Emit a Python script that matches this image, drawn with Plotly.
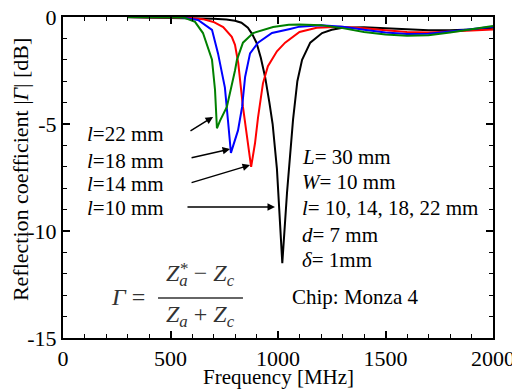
import plotly.graph_objects as go

# ---- data ----
freq_l10 = [300, 400, 500, 600, 700, 760, 800, 830, 860, 880, 900, 920, 940, 960, 975, 995, 1020,
            1042, 1070, 1090, 1112, 1150, 1205, 1250, 1300, 1400, 1500, 1600, 1700, 1800, 1900, 2000]
db_l10 = [-0.01, -0.02, -0.03, -0.05, -0.08, -0.12, -0.18, -0.27, -0.5, -0.8, -1.2, -1.9, -2.8, -4.0, -5.0, -7.1, -11.5,
          -8.2, -4.8, -3.0, -2.0, -1.2, -0.75, -0.6, -0.5, -0.48, -0.52, -0.58, -0.62, -0.62, -0.58, -0.5]

freq_l14 = [300, 500, 580, 650, 700, 745, 785, 800, 815, 837, 856, 875, 893, 907, 930, 953, 995, 1033,
            1100, 1180, 1290, 1400, 1500, 1600, 1700, 1800, 1900, 2000]
db_l14 = [0.0, -0.02, -0.04, -0.1, -0.23, -0.47, -0.93, -1.3, -2.15, -4.2, -5.6, -7.0, -5.9, -4.7, -3.1, -2.3, -1.6, -1.2,
          -0.7, -0.5, -0.45, -0.52, -0.62, -0.7, -0.72, -0.68, -0.63, -0.58]

freq_l18 = [300, 545, 628, 693, 721, 753, 767, 781, 814, 833, 847, 870, 907, 972, 1056, 1100, 1200,
            1300, 1400, 1500, 1600, 1700, 1800, 1900, 2000]
db_l18 = [0.0, -0.01, -0.14, -0.6, -1.7, -3.3, -4.8, -6.35, -5.3, -4.2, -2.8, -1.7, -1.2, -0.75, -0.56, -0.45, -0.38,
          -0.45, -0.6, -0.72, -0.8, -0.78, -0.68, -0.55, -0.45]

freq_l22 = [300, 560, 614, 651, 693, 707, 716, 730, 762, 777, 800, 809, 837, 884, 977, 1050, 1100, 1200,
            1300, 1400, 1500, 1600, 1700, 1800, 1900, 2000]
db_l22 = [0.0, -0.02, -0.23, -0.75, -2.0, -3.4, -5.2, -4.85, -4.2, -3.55, -2.5, -2.0, -1.2, -0.75, -0.47, -0.36, -0.35, -0.38,
          -0.52, -0.7, -0.82, -0.88, -0.85, -0.72, -0.58, -0.42]

y_tickvals = [-15, -10, -5, 0]
y_ticktext = ["-15", "-10", "-5", "0"]
x_tickvals = [0, 500, 1000, 1500, 2000]
x_ticktext = ["0", "500", "1000", "1500", "2000"]

FONT = "Liberation Serif, Times New Roman, serif"

fig = go.Figure()
for fx, fy, col in [(freq_l10, db_l10, "black"), (freq_l14, db_l14, "red"),
                    (freq_l18, db_l18, "blue"), (freq_l22, db_l22, "green")]:
    fig.add_trace(go.Scatter(x=fx, y=fy, mode="lines", line=dict(color=col, width=2),
                             showlegend=False, hoverinfo="skip"))

axis_common = dict(
    showline=True, linecolor="black", linewidth=2, mirror="ticks",
    ticks="inside", ticklen=7, tickwidth=1.5, tickcolor="black",
    showgrid=False, zeroline=False, automargin=False, ticklabeloverflow="allow",
    tickfont=dict(family=FONT, size=22, color="black"),
)

fig.update_xaxes(range=[0, 2000], tickvals=x_tickvals, ticktext=x_ticktext,
                 minor=dict(dtick=100, ticks="inside", ticklen=4, tickwidth=1.2, tickcolor="black", showgrid=False),
                 **axis_common)
fig.update_yaxes(range=[-15, 0], tickvals=y_tickvals, ticktext=y_ticktext,
                 minor=dict(dtick=1, ticks="inside", ticklen=4, tickwidth=1.2, tickcolor="black", showgrid=False),
                 **axis_common)

ann = []
# axis titles
ann.append(dict(x=0.5, y=-0.12, xref="paper", yref="paper", text="Frequency [MHz]", showarrow=False,
                xanchor="center", yanchor="middle", font=dict(family=FONT, size=21, color="black")))
ann.append(dict(x=-0.1, y=0.523, xref="paper", yref="paper", text="Reflection coefficient |<i>Γ</i>| [dB]",
                showarrow=False, textangle=-90, xanchor="center", yanchor="middle",
                font=dict(family=FONT, size=22, color="black")))
# left labels
for txt, yy in [("<i>l</i>=22 mm", -5.47), ("<i>l</i>=18 mm", -6.73),
                ("<i>l</i>=14 mm", -7.80), ("<i>l</i>=10 mm", -8.93)]:
    ann.append(dict(x=102, y=yy, xref="x", yref="y", text=txt, showarrow=False,
                    xanchor="left", yanchor="middle", font=dict(family=FONT, size=21, color="black")))
# arrows
for (hx, hy, tx, ty) in [(698, -4.67, 586, -5.37), (777, -6.17, 591, -6.59),
                         (870, -6.92, 591, -7.76), (986, -8.88, 572, -8.88)]:
    ann.append(dict(x=hx, y=hy, ax=tx, ay=ty, xref="x", yref="y", axref="x", ayref="y",
                    text="", showarrow=True, arrowhead=2, arrowsize=1, arrowwidth=1.5, arrowcolor="black"))
# right block
for txt, yy in [("<i>L</i>= 30 mm", -6.54), ("<i>W</i>= 10 mm", -7.71),
                ("<i>l</i>= 10, 14, 18, 22 mm", -8.93), ("<i>d</i>= 7 mm", -10.19),
                ("<i>δ</i>= 1mm", -11.36)]:
    ann.append(dict(x=1102, y=yy, xref="x", yref="y", text=txt, showarrow=False,
                    xanchor="left", yanchor="middle", font=dict(family=FONT, size=21, color="black")))
ann.append(dict(x=1056, y=-13.08, xref="x", yref="y", text="Chip: Monza 4", showarrow=False,
                xanchor="left", yanchor="middle", font=dict(family=FONT, size=21, color="black")))
# formula
fcol = "#333333"
ann.append(dict(x=302, y=-13.08, xref="x", yref="y", text="<i>Γ</i> =", showarrow=False,
                xanchor="center", yanchor="middle", font=dict(family=FONT, size=24, color=fcol)))
ann.append(dict(x=640, y=-12.05, xref="x", yref="y",
                text="<i>Z</i><sub><i>a</i></sub> − <i>Z</i><sub><i>c</i></sub>", showarrow=False,
                xanchor="center", yanchor="middle", font=dict(family=FONT, size=24, color=fcol)))
ann.append(dict(x=566, y=-11.75, xref="x", yref="y", text="*", showarrow=False,
                xanchor="center", yanchor="middle", font=dict(family=FONT, size=17, color=fcol)))
ann.append(dict(x=640, y=-13.95, xref="x", yref="y",
                text="<i>Z</i><sub><i>a</i></sub> + <i>Z</i><sub><i>c</i></sub>", showarrow=False,
                xanchor="center", yanchor="middle", font=dict(family=FONT, size=24, color=fcol)))

fig.add_shape(type="line", xref="x", yref="y", x0=442, x1=837, y0=-13.13, y1=-13.13,
              line=dict(color=fcol, width=1.5))

# the page shows the figure offset by the default 8px body margin, so the
# figure is sized/margined to land the plot area where the reference has it
fig.update_layout(
    width=512, height=381,
    margin=dict(l=55, r=27, t=9, b=51),
    paper_bgcolor="white", plot_bgcolor="white",
    annotations=ann,
    font=dict(family=FONT, color="black"),
)

fig.write_html("out.html")
